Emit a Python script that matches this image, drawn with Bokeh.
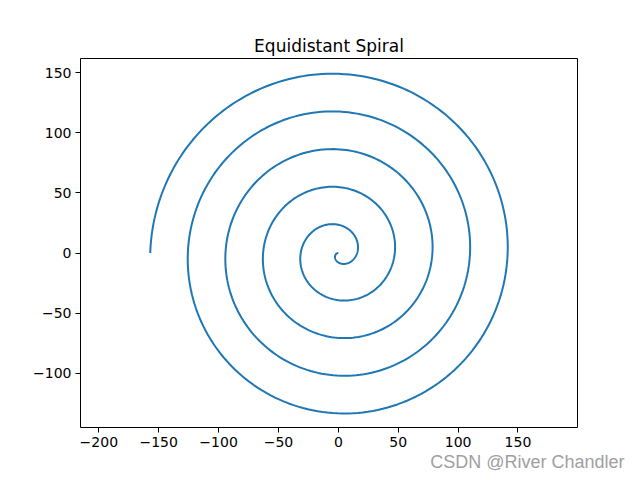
import numpy as np
from bokeh.plotting import figure
from bokeh.models import Range1d, FixedTicker, Title
from bokeh.embed import file_html
from bokeh.resources import INLINE

# Spiral parameters: r = a * theta, 5 turns
a = 5.0
theta_end = 10 * np.pi
n_points = 1000
theta = np.linspace(0, theta_end, n_points)
r = a * theta
x = -r * np.cos(theta)
y = -r * np.sin(theta)

x_ticks = [-200, -150, -100, -50, 0, 50, 100, 150]
y_ticks = [-100, -50, 0, 50, 100, 150]

p = figure(width=640, height=480, output_backend="svg", toolbar_location=None,
           x_range=Range1d(-215.3, 199.7), y_range=Range1d(-145.3, 162),
           min_border_left=80, min_border_right=63, min_border_top=58, min_border_bottom=53,
           title="Equidistant Spiral")
p.title.align = "center"
p.title.text_font = "DejaVu Sans"
p.title.text_font_size = "17px"
p.title.text_font_style = "normal"
p.title.text_color = "black"
p.title.standoff = 6

p.line(x, y, line_color="#1f77b4", line_width=2)

for ax in (p.xaxis, p.yaxis):
    ax.axis_line_color = None
    ax.major_tick_out = 5
    ax.major_tick_in = 0
    ax.minor_tick_line_color = None
    ax.major_label_text_font = "DejaVu Sans"
    ax.major_label_text_font_size = "14px"
    ax.major_label_text_color = "black"
    ax.major_tick_line_color = "black"
    ax.major_label_standoff = 4
p.xaxis.ticker = FixedTicker(ticks=x_ticks)
p.yaxis.ticker = FixedTicker(ticks=y_ticks)
p.xaxis.major_label_overrides = {t: str(t).replace("-", "\u2212") for t in x_ticks}
p.yaxis.major_label_overrides = {t: str(t).replace("-", "\u2212") for t in y_ticks}
p.xgrid.visible = False
p.ygrid.visible = False
p.outline_line_color = "black"
p.outline_line_width = 1

wm = Title(text="CSDN @River Chandler", align="right", text_font="Liberation Sans",
           text_font_size="18px", text_font_style="normal", text_color="#a0a0a0",
           offset=-47, standoff=0)
p.add_layout(wm, "below")

open("out.html", "w").write(file_html(p, INLINE))
